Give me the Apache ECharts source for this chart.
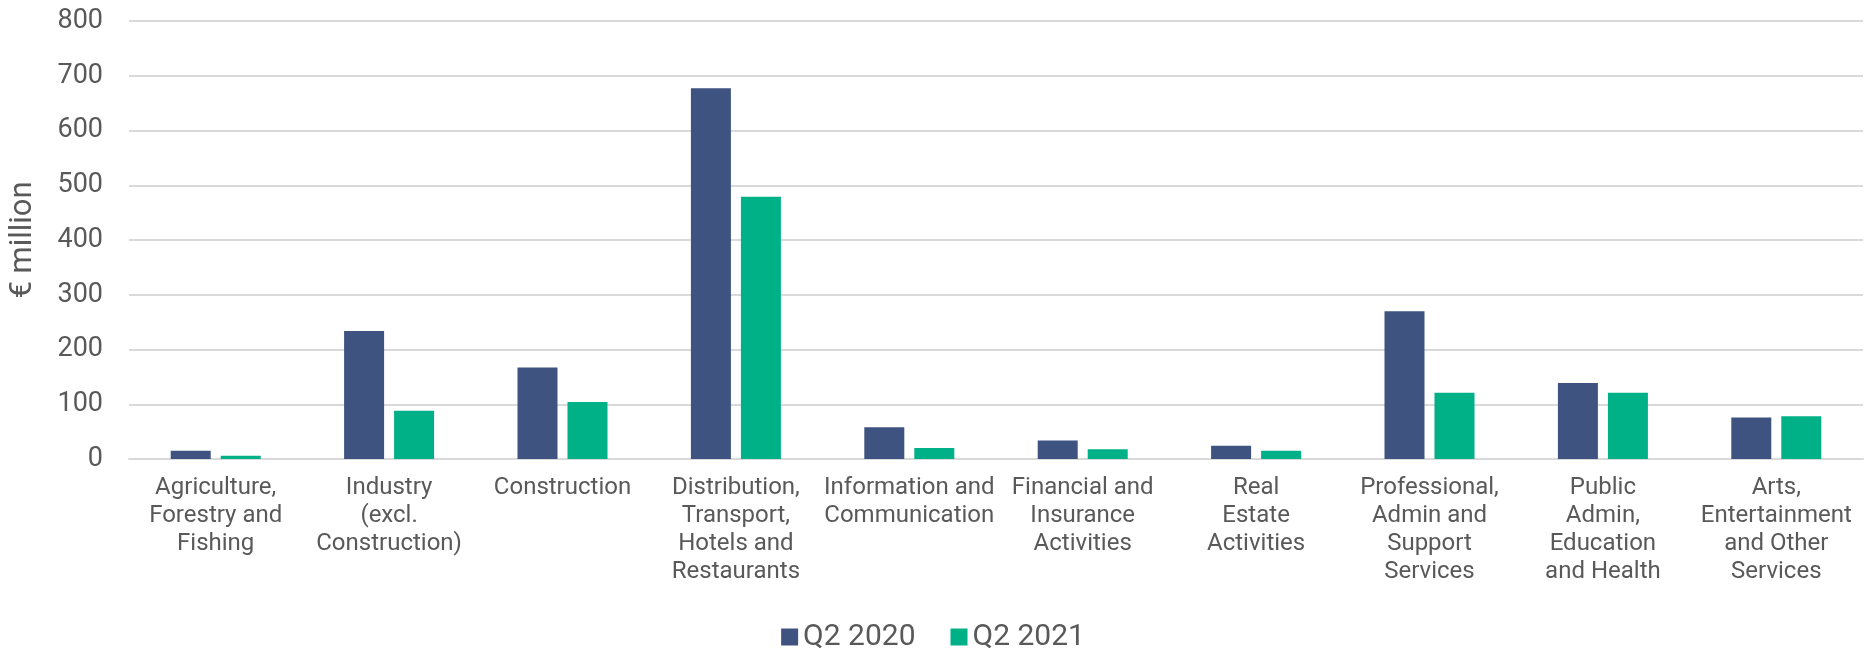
<!DOCTYPE html>
<html><head><meta charset="utf-8">
<script src="https://cdn.jsdelivr.net/npm/echarts@6/dist/echarts.min.js"></script>
<style>html,body{margin:0;padding:0;background:#fff}#c{width:1866px;height:648px}</style>
</head><body><div id="c"></div>
<script>
const categories = [
  "Agriculture,\nForestry and\nFishing",
  "Industry\n(excl.\nConstruction)",
  "Construction",
  "Distribution,\nTransport,\nHotels and\nRestaurants",
  "Information and\nCommunication",
  "Financial and\nInsurance\nActivities",
  "Real\nEstate\nActivities",
  "Professional,\nAdmin and\nSupport\nServices",
  "Public\nAdmin,\nEducation\nand Health",
  "Arts,\nEntertainment\nand Other\nServices"
];
const q2_2020 = [15, 234, 167, 677, 58, 34, 24, 270, 139, 76];
const q2_2021 = [6, 88, 104, 479, 20, 18, 15, 121, 121, 78];
const seriesNames = ["Q2 2020", "Q2 2021"];
const yTicks = {min: 0, max: 800, interval: 100};

const txt = '#595959';
const chart = echarts.init(document.getElementById('c'));
chart.setOption({
  animation: false,
  textStyle: {fontFamily: 'Roboto'},
  grid: {left: 128, right: 3, top: 21, bottom: 189},
  legend: {
    data: seriesNames, top: 617, left: 'center',
    itemWidth: 17, itemHeight: 17, itemGap: 35,
    textStyle: {color: txt, fontSize: 30, fontFamily: 'Roboto'},
    icon: 'rect'
  },
  xAxis: {
    type: 'category', data: categories,
    axisLine: {lineStyle: {color: '#d9d9d9', width: 2}},
    axisTick: {show: false},
    axisLabel: {color: txt, fontSize: 24, lineHeight: 28, margin: 15, interval: 0, fontFamily: 'Roboto'}
  },
  yAxis: {
    type: 'value', min: yTicks.min, max: yTicks.max, interval: yTicks.interval,
    name: '€ million', nameLocation: 'middle', nameGap: 90,
    nameTextStyle: {color: txt, fontSize: 31, fontFamily: 'Roboto'},
    axisLine: {show: false}, axisTick: {show: false},
    axisLabel: {color: txt, fontSize: 27, margin: 26, fontFamily: 'Roboto'},
    splitLine: {lineStyle: {color: '#d9d9d9', width: 2}}
  },
  series: [
    {name: seriesNames[0], type: 'bar', data: q2_2020, barWidth: 40, barGap: '25%',
     itemStyle: {color: '#3F5380'}},
    {name: seriesNames[1], type: 'bar', data: q2_2021, barWidth: 40,
     itemStyle: {color: '#00B086'}}
  ]
});
</script></body></html>
